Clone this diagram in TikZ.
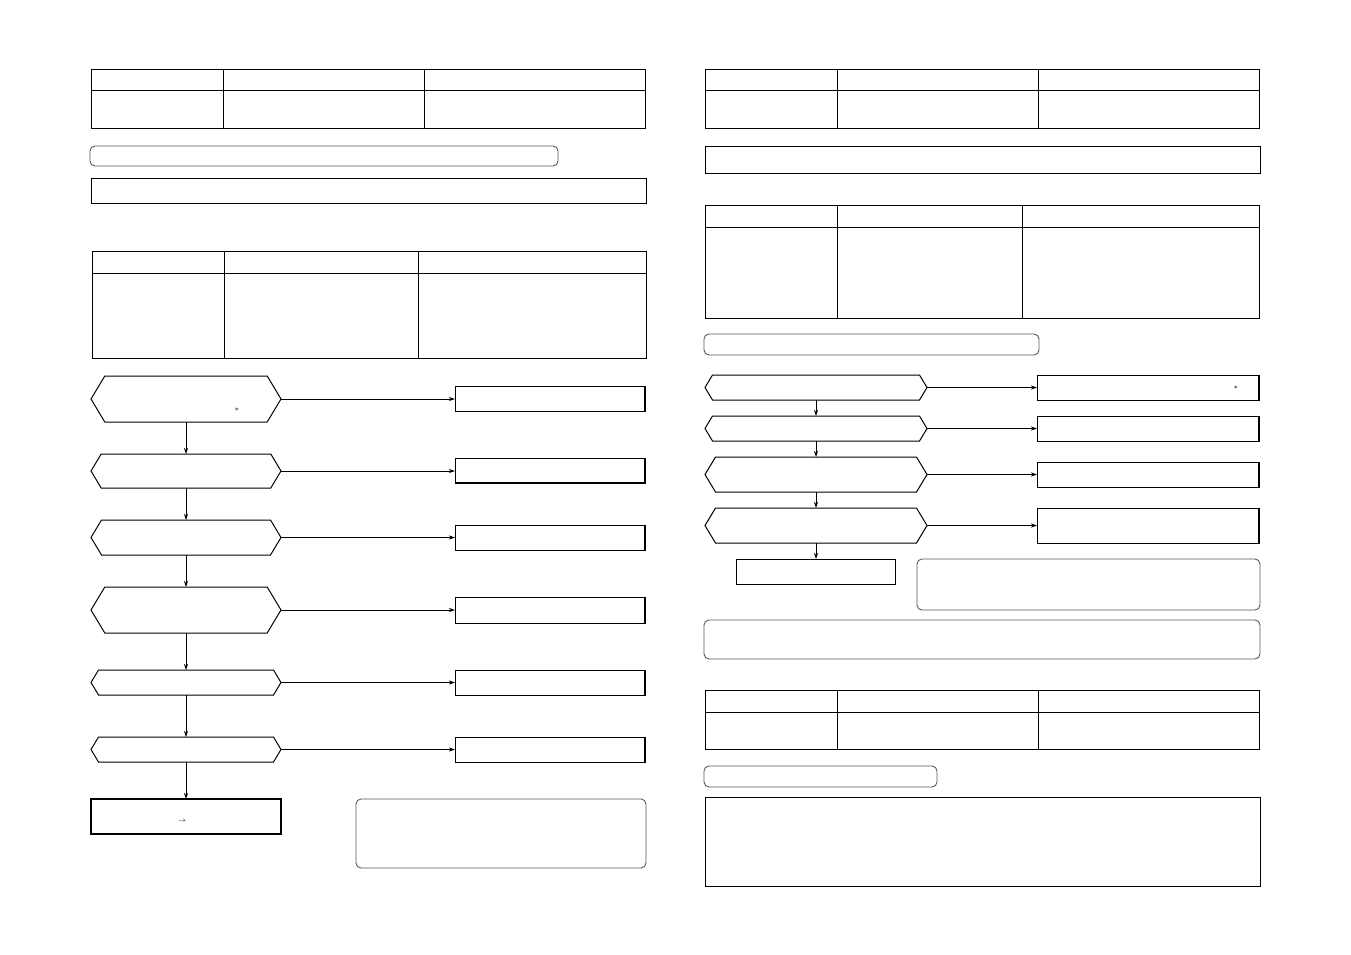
\documentclass[tikz,border=0pt]{standalone}
\usetikzlibrary{arrows.meta}
\tikzset{
  every picture/.style={x=1pt,y=-1pt},
  ln/.style={line width=1pt,draw=black},
  thk/.style={line width=1.9pt,draw=black},
  rnd/.style={line width=0.9pt,draw=black!65,rounded corners=5pt},
  arr/.style={line width=0.9pt,-{Stealth[length=6pt,width=4pt]}},
}
% generic box node: style, name, x1, y1, x2, y2
\newcommand\bx[6][ln]{%
  \node[#1,anchor=north west,inner sep=0pt,outer sep=0pt,
        minimum width={(#5-#3)*1pt},minimum height={(#6-#4)*1pt}] (#2) at (#3,#4) {};}
% hexagon: name, x1, y1, x2, y2
\newcommand\hx[5]{%
  \pgfmathsetmacro\hm{(#3+#5)/2}\pgfmathsetmacro\ins{0.3*(#5-#3)}%
  \draw[ln] (#2,\hm) -- (#2+\ins,#3) -- (#4-\ins,#3) -- (#4,\hm) -- (#4-\ins,#5) -- (#2+\ins,#5) -- cycle;
  \node[draw=none,anchor=north west,inner sep=0pt,outer sep=0pt,
        minimum width={(#4-#2)*1pt},minimum height={(#5-#3)*1pt}] (#1) at (#2,#3) {};}
% table with header: x1,y1,x2,y2,header y, col1, col2
\newcommand\tb[7]{%
  \draw[ln] (#1,#2) rectangle (#3,#4);
  \draw[ln] (#1,#5) -- (#3,#5);
  \draw[ln] (#6,#2) -- (#6,#4);
  \draw[ln] (#7,#2) -- (#7,#4);}
\begin{document}
\begin{tikzpicture}
\useasboundingbox (0,0) rectangle (1351,954);
% ================= LEFT PAGE =================
\tb{91}{69}{645}{128}{90}{223}{424}
\bx[rnd]{lr1}{90}{146}{558}{166}
\bx{lb1}{91}{178}{646}{203}
\tb{92}{251}{646}{358}{273}{224}{418}
% hexagons
\hx{L1}{91}{376}{281}{422}
\hx{L2}{91}{454}{281}{488}
\hx{L3}{91}{520}{281}{555}
\hx{L4}{91}{587}{281}{633}
\hx{L5}{91}{670}{281}{695}
\hx{L6}{91}{737}{281}{762}
\bx[thk]{L7}{91}{799}{281}{834}
\node[inner sep=0pt] (st1) at (237,409.5) {\footnotesize$\ast$};
\node[inner sep=0pt] (ra1) at (182,821) {\scriptsize$\rightarrow$};
% right boxes
\bx{R1}{455}{386}{645}{411}
\bx{R2}{455}{458}{645}{483}
\bx{R3}{455}{525}{645}{550}
\bx{R4}{455}{597}{645}{623}
\bx{R5}{455}{670}{645}{695}
\bx{R6}{455}{737}{645}{762}
\foreach \b in {R1,R2,R3,R4,R5,R6} {\draw[line width=1.7pt] (\b.north east) -- (\b.south east);}
\draw[line width=1.7pt] (R2.south west) -- (R2.south east);
\bx[rnd]{ln1}{356}{799}{646}{868}
% connectors
\draw[arr] (L1.south) -- (L2.north);
\draw[arr] (L2.south) -- (L3.north);
\draw[arr] (L3.south) -- (L4.north);
\draw[arr] (L4.south) -- (L5.north);
\draw[arr] (L5.south) -- (L6.north);
\draw[arr] (L6.south) -- (L7.north);
\draw[arr] (L1.east) -- (L1.east -| R1.west);
\draw[arr] (L2.east) -- (L2.east -| R2.west);
\draw[arr] (L3.east) -- (L3.east -| R3.west);
\draw[arr] (L4.east) -- (L4.east -| R4.west);
\draw[arr] (L5.east) -- (L5.east -| R5.west);
\draw[arr] (L6.east) -- (L6.east -| R6.west);
% ================= RIGHT PAGE =================
\tb{705}{69}{1259}{128}{90}{837}{1038}
\bx{rb1}{705}{146}{1260}{173}
\tb{705}{205}{1259}{318}{227}{837}{1022}
\bx[rnd]{rr1}{704}{334}{1039}{355}
\hx{H1}{705}{375}{927}{400}
\hx{H2}{705}{416}{927}{441}
\hx{H3}{705}{457}{927}{492}
\hx{H4}{705}{508}{927}{543}
\bx{B1}{1037}{375}{1259}{400}
\bx{B2}{1037}{416}{1259}{441}
\bx{B3}{1037}{462}{1259}{487}
\bx{B4}{1037}{508}{1259}{543}
\foreach \b in {B1,B2,B3,B4} {\draw[line width=1.7pt] (\b.north east) -- (\b.south east);}
\node[inner sep=0pt] (st2) at (1236,387.5) {\footnotesize$\ast$};
\bx{H5}{736}{559}{895}{584}
\bx[rnd]{rn1}{917}{559}{1260}{610}
\bx[rnd]{rn2}{704}{620}{1260}{659}
\tb{705}{690}{1259}{749}{712}{837}{1038}
\bx[rnd]{rr2}{704}{766}{937}{787}
\bx{rb2}{705}{797}{1260}{886}
\draw[arr] (H1.south) -- (H2.north);
\draw[arr] (H2.south) -- (H3.north);
\draw[arr] (H3.south) -- (H4.north);
\draw[arr] (H4.south) -- (H4.south |- H5.north);
\draw[arr] (H1.east) -- (H1.east -| B1.west);
\draw[arr] (H2.east) -- (H2.east -| B2.west);
\draw[arr] (H3.east) -- (H3.east -| B3.west);
\draw[arr] (H4.east) -- (H4.east -| B4.west);
\end{tikzpicture}
\end{document}
